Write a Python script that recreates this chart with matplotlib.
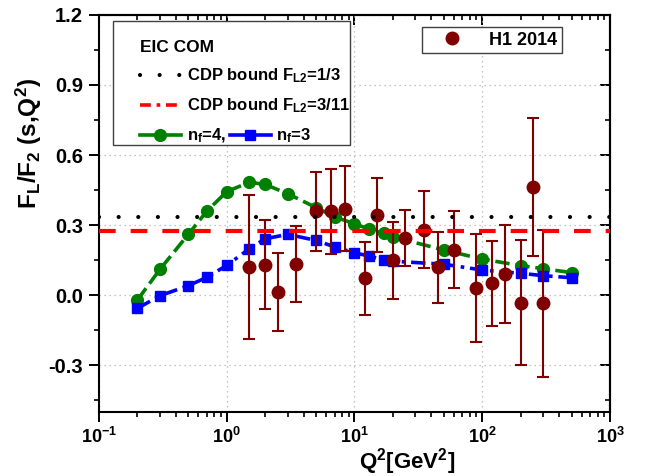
import numpy as np
import matplotlib
matplotlib.use("Agg")
import matplotlib.pyplot as plt
from matplotlib.lines import Line2D
from matplotlib.patches import Rectangle
from matplotlib.transforms import IdentityTransform
from matplotlib.ticker import FixedLocator, FuncFormatter, LogLocator, NullFormatter, MultipleLocator

plt.rcParams['font.family'] = ['Liberation Sans', 'DejaVu Sans']
plt.rcParams['font.weight'] = 'bold'
plt.rcParams['mathtext.fontset'] = 'custom'
plt.rcParams['mathtext.rm'] = 'Liberation Sans:bold'
plt.rcParams['mathtext.bf'] = 'Liberation Sans:bold'
plt.rcParams['mathtext.it'] = 'Liberation Sans:bold'
plt.rcParams['mathtext.sf'] = 'Liberation Sans:bold'
plt.rcParams['mathtext.default'] = 'bf'

# ---------------- data ----------------
q2_theory = [0.2, 0.3, 0.5, 0.7, 1.0, 1.5, 2.0, 3.0, 5.0, 7.0, 10.0, 13.0, 17.0, 20.0, 50.0, 100.0, 200.0, 300.0, 500.0]
ratio_nf4 = [-0.021, 0.110, 0.260, 0.360, 0.443, 0.483, 0.474, 0.434, 0.375, 0.335, 0.305, 0.283, 0.264, 0.249, 0.193, 0.154, 0.126, 0.113, 0.096]
ratio_nf3 = [-0.057, -0.003, 0.040, 0.076, 0.127, 0.198, 0.241, 0.260, 0.234, 0.206, 0.181, 0.167, 0.150, 0.145, 0.132, 0.107, 0.093, 0.083, 0.074]

q2_h1 = [1.5, 2.0, 2.5, 3.5, 5.0, 6.5, 8.5, 12.0, 15.0, 20.0, 25.0, 35.0, 45.0, 60.0, 90.0, 120.0, 150.0, 200.0, 250.0, 300.0]
ratio_h1 = [0.120, 0.130, 0.014, 0.133, 0.358, 0.358, 0.369, 0.071, 0.343, 0.149, 0.244, 0.280, 0.118, 0.195, 0.030, 0.051, 0.090, -0.033, 0.464, -0.035]
err_h1 = [0.309, 0.190, 0.167, 0.163, 0.168, 0.182, 0.182, 0.158, 0.157, 0.165, 0.120, 0.164, 0.154, 0.164, 0.231, 0.182, 0.211, 0.267, 0.295, 0.315]

bound_1_3 = 1.0 / 3.0
bound_3_11 = 3.0 / 11.0

xticks = [0.1, 1, 10, 100, 1000]
yticks = [-0.3, 0.0, 0.3, 0.6, 0.9, 1.2]

# ---------------- figure ----------------
fig = plt.figure(figsize=(6.45, 4.76), dpi=100)
ax = fig.add_axes([0.1535, 0.1351, 0.7922, 0.8334])
ax.set_xscale('log')
ax.set_xlim(0.1, 1000)
ax.set_ylim(-0.5, 1.2)

# grid
ax.grid(True, which='major', linestyle=(0, (1, 3)), color='#b0b0b0', linewidth=0.9)
ax.set_axisbelow(True)

# theory curves
ax.plot(q2_theory, ratio_nf4, color='#008000', lw=2.6, linestyle=(0, (4, 1.6)),
        marker='o', markersize=8.5, zorder=3)
ax.plot(q2_theory, ratio_nf3, color='#0000ff', lw=2.6, linestyle=(0, (4, 1.6, 1, 1.6)),
        marker='s', markersize=7.5, zorder=3)

# bounds
ax.axhline(bound_1_3, color='black', lw=3.0, linestyle=(0, (0.01, 4.7)),
           dash_capstyle='round', zorder=5)
ax.axhline(bound_3_11, color='#ff0000', lw=3.0, linestyle=(0, (4, 3.6)), zorder=5)

# H1 data
ax.errorbar(q2_h1, ratio_h1, yerr=err_h1, fmt='o', color='#800000', ecolor='#800000',
            markersize=9, elinewidth=1.5, capsize=4.2, capthick=1.5, zorder=4)

# ticks
ax.xaxis.set_major_locator(FixedLocator(xticks))
ax.xaxis.set_minor_locator(LogLocator(base=10, subs=np.arange(2, 10)))
ax.xaxis.set_minor_formatter(NullFormatter())
ax.xaxis.set_major_formatter(FuncFormatter(lambda v, p: r'$\mathbf{10^{%d}}$' % int(round(np.log10(v)))))
ax.yaxis.set_major_locator(FixedLocator(yticks))
ax.yaxis.set_minor_locator(MultipleLocator(0.15))
ax.yaxis.set_major_formatter(FuncFormatter(lambda v, p: '%.1f' % v))

ax.tick_params(which='major', direction='out', length=7.5, width=1.4, pad=4)
ax.tick_params(which='minor', direction='out', length=3.8, width=1.2)
ax.tick_params(axis='x', which='major', pad=3.2, labelsize=13)
ax.tick_params(axis='y', which='major', pad=4.2, labelsize=14.5)
for sp in ax.spines.values():
    sp.set_linewidth(1.5)

secx = ax.secondary_xaxis('top')
secx.xaxis.set_major_locator(FixedLocator(xticks))
secx.xaxis.set_minor_locator(LogLocator(base=10, subs=np.arange(2, 10)))
secx.xaxis.set_major_formatter(NullFormatter())
secx.xaxis.set_minor_formatter(NullFormatter())
secx.tick_params(which='major', direction='in', length=7.5, width=1.4)
secx.tick_params(which='minor', direction='in', length=3.8, width=1.2)
secx.spines['top'].set_linewidth(1.5)

secy = ax.secondary_yaxis('right')
secy.yaxis.set_major_locator(FixedLocator(yticks))
secy.yaxis.set_minor_locator(MultipleLocator(0.15))
secy.yaxis.set_major_formatter(NullFormatter())
secy.tick_params(which='major', direction='in', length=7.5, width=1.4)
secy.tick_params(which='minor', direction='in', length=3.8, width=1.2)
secy.spines['right'].set_linewidth(1.5)

# labels
ax.set_xlabel(r'Q$^{2}$[GeV$^{2}$]', fontsize=16, fontweight='bold')
ax.xaxis.set_label_coords(0.604, -0.086)
ax.set_ylabel(r'F$_{L}$/F$_{2}$ (s,Q$^{2}$)', fontsize=17.5, fontweight='bold')
ax.yaxis.set_label_coords(-0.107, 0.677)

# legend 1 (frame drawn separately)
ax.add_patch(Rectangle((0.0274, 0.6723), 0.4638, 0.3133, transform=ax.transAxes,
                       facecolor='white', edgecolor='#404040', lw=1.0, zorder=6))
h_dot = Line2D([], [], color='black', lw=3.0, linestyle=(0, (0.01, 4.7)), dash_capstyle='round')
h_dd = Line2D([], [], color='#ff0000', lw=2.6, linestyle=(0, (3, 1.6, 1, 1.6)))
h_g = Line2D([], [], color='#008000', lw=2.6, linestyle='-', marker='o', markersize=8.5)
leg1 = ax.legend([h_dot, h_dd, h_g],
                 [r'CDP bound F$_{L2}$=1/3', r'CDP bound F$_{L2}$=3/11', r'n$_{f}$=4,'],
                 title='EIC COM', loc='upper left', bbox_to_anchor=(0.0802, 0.936),
                 borderaxespad=0, frameon=False,
                 prop={'size': 12, 'weight': 'bold'}, handlelength=2.45, handletextpad=0.35,
                 labelspacing=0.68, borderpad=0.0, alignment='left')
leg1.get_title().set_fontsize(12.5)
leg1.get_title().set_fontweight('bold')
leg1.set_zorder(7)

# legend 2
ax.add_patch(Rectangle((0.632, 0.9035), 0.274, 0.0663, transform=ax.transAxes,
                       facecolor='white', edgecolor='#404040', lw=1.0, zorder=6))
h_h1 = Line2D([], [], color='#800000', marker='o', linestyle='none', markersize=9)
leg2 = ax.legend([h_h1], ['H1 2014'], loc='upper left', bbox_to_anchor=(0.656, 0.958),
                 borderaxespad=0, frameon=False,
                 prop={'size': 13, 'weight': 'bold'}, handlelength=2.0, handletextpad=1.02,
                 borderpad=0.0)
leg2.set_zorder(7)
ax.add_artist(leg1)

# add blue entry on the n_f line
fig.canvas.draw()
renderer = fig.canvas.get_renderer()
txt = leg1.get_texts()[2]
bb = txt.get_window_extent(renderer)
hg = leg1.legend_handles[2]
xy = hg.get_transform().transform(np.column_stack([hg.get_xdata(), hg.get_ydata()]))
ymid = xy[:, 1].mean()
hlen = xy[:, 0].max() - xy[:, 0].min()
x0 = bb.x1 + 4
blue_line = Line2D([x0, x0 + hlen], [ymid, ymid], color='#0000ff', lw=2.6, transform=IdentityTransform(), zorder=8)
blue_mark = Line2D([x0 + hlen / 2], [ymid], color='#0000ff', marker='s', markersize=7.5, linestyle='none',
                   transform=IdentityTransform(), zorder=8)
fig.add_artist(blue_line)
fig.add_artist(blue_mark)
fig.text(x0 + hlen + 5, bb.y0, r'n$_{f}$=3', transform=IdentityTransform(),
         fontsize=12, fontweight='bold', va='bottom', ha='left', zorder=8)

fig.savefig('out.png', dpi=100)
